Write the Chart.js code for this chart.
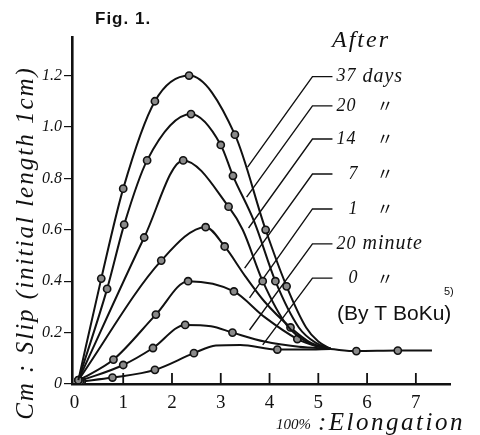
<!DOCTYPE html>
<html><head><meta charset="utf-8">
<script src="https://cdn.jsdelivr.net/npm/chart.js@4"></script>
<style>html,body{margin:0;padding:0;background:#fff}canvas{display:block}</style>
</head><body>
<canvas id="c" width="480" height="435"></canvas>
<script>
// ---------- data ----------
const seriesNames = ['37 days', '20 days', '14 days', '7 days', '1 day', '20 minute', '0 minute'];
const labelNums   = ['37', '20', '14', '7', '1', '20', '0'];
const labelUnits  = ['days', '〃', '〃', '〃', '〃', 'minute', '〃'];

// [elongation (100%), slip (cm)]
const days37 = [[0.08,0.015],[0.55,0.41],[1.0,0.76],[1.65,1.10],[2.35,1.20],[3.29,0.97],[3.92,0.60],[4.35,0.38],[4.75,0.22],[5.0,0.165],[5.25,0.137]];
const days37Mark = [0,1,1,1,1,1,1,1,0,0,0];
const days20 = [[0.08,0.015],[0.67,0.37],[1.02,0.62],[1.49,0.87],[2.39,1.05],[3.0,0.93],[3.25,0.81],[3.69,0.63],[4.12,0.40],[4.6,0.22],[4.95,0.16],[5.25,0.137]];
const days20Mark = [1,1,1,1,1,1,1,0,1,0,0,0];
const days14 = [[0.08,0.015],[1.43,0.57],[2.23,0.87],[3.16,0.69],[3.45,0.60],[3.86,0.40],[4.35,0.23],[4.8,0.16],[5.25,0.137]];
const days14Mark = [0,1,1,1,0,1,0,0,0];
const days7 = [[0.08,0.015],[1.78,0.48],[2.69,0.61],[3.08,0.535],[3.5,0.42],[3.9,0.32],[4.43,0.22],[4.85,0.16],[5.25,0.137]];
const days7Mark = [1,1,1,1,0,0,1,0,0];
const days1 = [[0.1,0.015],[0.8,0.095],[1.67,0.27],[2.33,0.40],[3.27,0.36],[3.9,0.26],[4.57,0.175],[4.95,0.148],[5.25,0.137]];
const days1Mark = [0,1,1,1,1,0,1,0,0];
const min20 = [[0.12,0.012],[1.0,0.074],[1.61,0.14],[2.27,0.23],[2.8,0.225],[3.24,0.20],[3.9,0.165],[4.6,0.145],[5.25,0.137]];
const min20Mark = [1,1,1,1,0,1,0,0,0];
const min0 = [[0.15,0.01],[0.78,0.025],[1.65,0.055],[2.45,0.12],[2.9,0.15],[3.4,0.152],[4.16,0.134],[4.7,0.134],[5.25,0.136]];
const min0Mark = [1,1,1,1,0,0,1,0,0];
const commonTail = [[5.25,0.136],[5.78,0.128],[6.63,0.13],[7.33,0.13]];
const commonTailMark = [0,1,1,0];

// leader lines: label end x, label start x, label y, point on curve
const leaderRight = 5.29, leaderLeft = 4.88;
const leaderY   = [1.196, 1.082, 0.953, 0.817, 0.681, 0.545, 0.412];
const leaderEnd = [[3.55,0.844],[3.53,0.727],[3.57,0.607],[3.49,0.451],[3.59,0.335],[3.59,0.210],[3.86,0.152]];

const xTicks = [0,1,2,3,4,5,6,7];
const yTicks = [0,0.2,0.4,0.6,0.8,1.0,1.2];
const yTickLabels = ['0','0.2','0.4','0.6','0.8','1.0','1.2'];

// ---------- build ----------
const curves = [days37, days20, days14, days7, days1, min20, min0, commonTail];
const marks  = [days37Mark, days20Mark, days14Mark, days7Mark, days1Mark, min20Mark, min0Mark, commonTailMark];
const names  = seriesNames.concat(['common']);

const datasets = curves.map((c, i) => ({
  label: names[i],
  data: c.map(p => ({x: p[0], y: p[1]})),
  borderColor: '#111',
  borderWidth: 2,
  cubicInterpolationMode: 'monotone',
  pointRadius: marks[i].map(m => m ? 3.6 : 0),
  pointBackgroundColor: '#8a8a8a',
  pointBorderColor: '#111',
  pointBorderWidth: 1.6,
  fill: false
}));
leaderY.forEach((ly, i) => {
  datasets.push({
    label: 'leader ' + seriesNames[i],
    data: [{x: leaderRight, y: ly}, {x: leaderLeft, y: ly}, {x: leaderEnd[i][0], y: leaderEnd[i][1]}],
    borderColor: '#111', borderWidth: 1.4, tension: 0, pointRadius: 0, fill: false
  });
});

const serif = "'Liberation Serif', 'DejaVu Serif', serif";
const textPlugin = {
  id: 'texts',
  afterDraw(chart) {
    const {ctx, chartArea, scales: {x, y}} = chart;
    ctx.save();
    ctx.strokeStyle = '#111'; ctx.fillStyle = '#111';
    // inward x ticks
    ctx.lineWidth = 1.8;
    xTicks.slice(1).forEach(v => {
      const px = x.getPixelForValue(v);
      ctx.beginPath(); ctx.moveTo(px, chartArea.bottom); ctx.lineTo(px, chartArea.bottom - 11); ctx.stroke();
    });
    // Fig. 1.
    ctx.font = "bold 17px 'Liberation Sans', Arial, sans-serif";
    ctx.textBaseline = 'middle'; ctx.textAlign = 'left';
    ctx.letterSpacing = '1px';
    ctx.fillText('Fig. 1.', 95, 19);
    // After
    ctx.font = 'italic 24px ' + serif;
    ctx.letterSpacing = '2px';
    ctx.fillText('After', 332, 41);
    // series labels
    leaderY.forEach((ly, i) => {
      const px = x.getPixelForValue(leaderRight) + 4;
      const py = y.getPixelForValue(ly);
      ctx.letterSpacing = '1px';
      ctx.font = 'italic 18px ' + serif;
      ctx.textAlign = 'left';
      ctx.fillText(labelNums[i], px + (labelNums[i].length === 1 ? 12 : 0), py);
      if (labelUnits[i] === '〃') {
        ctx.letterSpacing = '0px';
        ctx.font = "17px 'Noto Sans CJK JP', sans-serif";
        ctx.fillText('〃', px + 40, py);
      } else {
        ctx.font = 'italic 20px ' + serif;
        ctx.fillText(labelUnits[i], px + 26, py);
      }
    });
    // By T Boku
    ctx.letterSpacing = '0px';
    ctx.font = "21px 'Liberation Sans', Arial, sans-serif";
    ctx.fillText('(By T BoKu)', 337, 314);
    ctx.font = "11px 'Liberation Sans', Arial, sans-serif";
    ctx.fillText('5)', 444, 292);
    // x axis title
    ctx.textBaseline = 'alphabetic';
    ctx.font = 'italic 15px ' + serif;
    ctx.fillText('100%', 276, 429);
    ctx.font = 'italic 25px ' + serif;
    ctx.letterSpacing = '2.5px';
    ctx.fillText(':Elongation', 318, 430);
    // y axis title
    ctx.translate(33, 243);
    ctx.rotate(-Math.PI / 2);
    ctx.textAlign = 'center';
    ctx.font = 'italic 25px ' + serif;
    ctx.letterSpacing = '2px';
    ctx.fillText('Cm : Slip (initial length 1cm)', 0, 0);
    ctx.restore();
  }
};

new Chart(document.getElementById('c'), {
  type: 'line',
  data: {datasets},
  options: {
    responsive: false,
    animation: false,
    layout: {padding: {left: 0, right: 30, top: 37, bottom: 0}},
    plugins: {legend: {display: false}, tooltip: {enabled: false}},
    scales: {
      x: {
        type: 'linear', min: -0.05, max: 7.7,
        afterBuildTicks: s => { s.ticks = xTicks.map(v => ({value: v})); },
        afterFit: s => { s.height = 51; },
        grid: {display: true, drawOnChartArea: false, drawTicks: false},
        border: {display: true, color: '#111', width: 2.6},
        ticks: {color: '#111', padding: 8, font: {family: serif, size: 19},
                callback: v => String(v)}
      },
      y: {
        type: 'linear', min: 0, max: 1.35,
        afterBuildTicks: s => { s.ticks = yTicks.map(v => ({value: v})); },
        afterFit: s => { s.width = 72; },
        grid: {display: true, drawOnChartArea: false, drawTicks: true, tickLength: 8, color: '#111', lineWidth: 1.2},
        border: {display: true, color: '#111', width: 2.6},
        ticks: {color: '#111', padding: 2, font: {family: serif, size: 16, style: 'italic'},
                callback: (v, i) => yTickLabels[i]}
      }
    }
  },
  plugins: [textPlugin]
});
</script>
</body></html>
